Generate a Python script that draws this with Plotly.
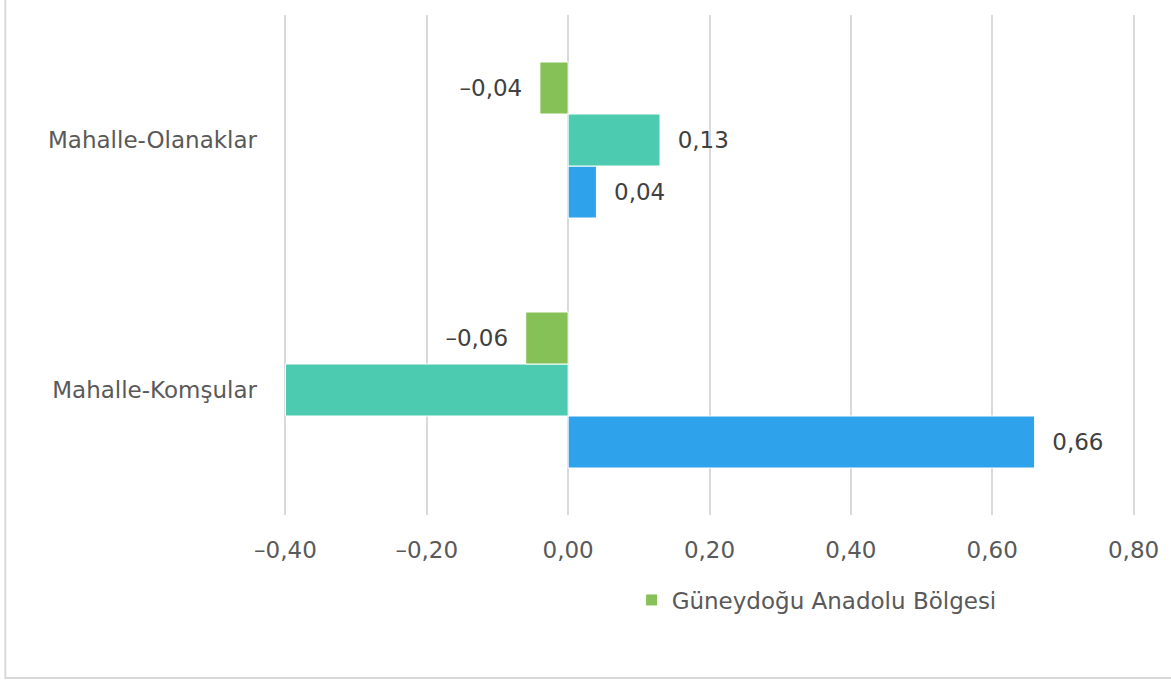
import plotly.graph_objs as go

categories = ["Mahalle-Komşular", "Mahalle-Olanaklar"]

# three series; only the green one is named in the legend
series_names = ["Seri 1", "Seri 2", "Güneydoğu Anadolu Bölgesi"]
blue_values = [0.66, 0.04]
teal_values = [-0.40, 0.13]
green_values = [-0.06, -0.04]
show_label = {"Seri 1": [True, True], "Seri 2": [False, True], "Güneydoğu Anadolu Bölgesi": [True, True]}

x_ticks = [-0.4, -0.2, 0.0, 0.2, 0.4, 0.6, 0.8]

colors = ["#2FA2EC", "#4CCBB0", "#86C157"]
font_family = "DejaVu Sans"
font_size = 23
text_color = "#404040"
axis_color = "#595959"
grid_color = "#D9D9D9"
pad = "\u00a0\u00a0"


def fmt(v):
    s = f"{abs(v):.2f}".replace(".", ",")
    return "\u2013" + s if v < 0 else s


fig = go.Figure()
for name, values, color in zip(series_names, [blue_values, teal_values, green_values], colors):
    labels = []
    for v, ok in zip(values, show_label[name]):
        if not ok:
            labels.append("")
        elif v < 0:
            labels.append(fmt(v) + pad)
        else:
            labels.append(pad + fmt(v))
    fig.add_trace(go.Bar(y=categories,
                         x=values,
                         name=name,
                         orientation="h",
                         marker=dict(color=color, line=dict(color="white", width=1)),
                         text=labels,
                         textposition="outside",
                         cliponaxis=False,
                         textfont=dict(family=font_family, size=font_size, color=text_color),
                         showlegend=(name == "Güneydoğu Anadolu Bölgesi")))

fig.update_layout(width=1171,
                  height=682,
                  barmode="group",
                  bargap=0.376,
                  bargroupgap=0,
                  plot_bgcolor="white",
                  paper_bgcolor="white",
                  margin=dict(l=284, r=36, t=15, b=167),
                  font=dict(family=font_family, size=font_size, color=axis_color),
                  showlegend=True,
                  legend=dict(orientation="h", x=0.4085, xanchor="left", y=-0.17, yanchor="middle",
                              font=dict(family=font_family, size=font_size, color=axis_color)),
                  shapes=[dict(type="rect", xref="paper", yref="paper",
                               x0=(5 - 284) / 852, x1=1.2, y0=-(678 - 515) / 500, y1=1.2,
                               line=dict(color=grid_color, width=2), fillcolor="rgba(0,0,0,0)",
                               layer="below")])

fig.update_xaxes(range=[-0.402, 0.802],
                 tickvals=x_ticks,
                 ticktext=[fmt(v) for v in x_ticks],
                 showgrid=True,
                 gridcolor=grid_color,
                 gridwidth=2,
                 zeroline=False,
                 showline=False,
                 ticklabelstandoff=19,
                 tickfont=dict(family=font_family, size=font_size, color=axis_color))

fig.update_yaxes(showgrid=False,
                 showline=False,
                 ticklabelstandoff=26,
                 tickfont=dict(family=font_family, size=font_size, color=axis_color))

fig.write_html("out.html",
               config={"displayModeBar": False},
               post_script="document.body.style.margin = '0';")
